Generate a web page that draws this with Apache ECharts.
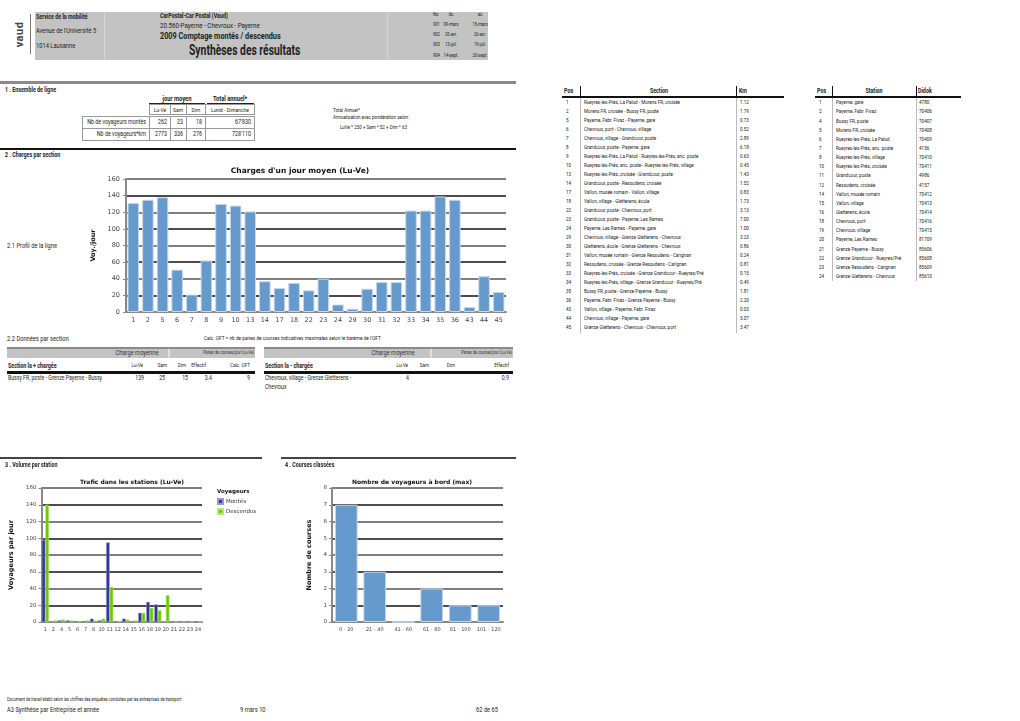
<!DOCTYPE html>
<html>
<head>
<meta charset="utf-8">
<script src="https://cdn.jsdelivr.net/npm/echarts@6/dist/echarts.min.js"></script>
<style>
body{margin:0;background:#fff;width:1020px;height:721px;position:relative;overflow:hidden;font-family:Roboto,"Noto Sans",sans-serif;color:#222}
.t{position:absolute;white-space:nowrap;line-height:1}
.r{position:absolute}
#chargeChart{position:absolute;left:80px;top:158px;width:440px;height:172px}
#stationChart{position:absolute;left:0;top:468px;width:285px;height:172px}
#courseChart{position:absolute;left:285px;top:468px;width:240px;height:172px}
</style>
</head>
<body>
<div id="chargeChart"></div>
<div id="stationChart"></div>
<div id="courseChart"></div>
<script>
// charge moyenne par section (Lu-Ve)
const chargeSections = ['1','2','5','6','7','8','9','10','13','14','17','18','22','23','24','29','30','31','32','33','34','35','36','43','44','45'];
const chargeLuVe = [131,135,138,51,21,62,130,128,121,37,29,35,26,40,9,4,28,36,36,122,122,139,135,6,43,24];

// trafic dans les stations
const stationLabels = ['1','2','4','5','6','7','8','10','11','12','14','15','16','18','19','20','21','22','23','24'];
const stationMontes = [98,0,2,2,1,1,4,2,95,1,4,1,11,24,21,0,1,0,0,1];
const stationDescendus = [140,2,3,2,1,2,2,4,42,1,3,2,11,17,14,32,0,0,0,0];

// courses classees
const courseClasses = ['0 - 20','21 - 40','41 - 60','61 - 80','81 - 100','101 - 120'];
const courseCounts = [7,3,0,2,1,1];

// tableaux
const sectionPos = ['1','2','5','6','7','8','9','10','13','14','17','18','22','23','24','29','30','31','32','33','34','35','36','43','44','45'];
const sectionNames = [
  'Rueyres-les-Prés, La Palud - Morens FR, croisée',
  'Morens FR, croisée - Bussy FR, poste',
  'Payerne, Fabr. Fivaz - Payerne, gare',
  'Chevroux, port - Chevroux, village',
  'Chevroux, village - Grandcour, poste',
  'Grandcour, poste - Payerne, gare',
  'Rueyres-les-Prés, La Palud - Rueyres-les-Prés, anc. poste',
  'Rueyres-les-Prés, anc. poste - Rueyres-les-Prés, village',
  'Rueyres-les-Prés, croisée - Grandcour, poste',
  'Grandcour, poste - Ressudens, croisée',
  'Vallon, musée romain - Vallon, village',
  'Vallon, village - Gletterens, école',
  'Grandcour, poste - Chevroux, port',
  'Grandcour, poste - Payerne, Les Rames',
  'Payerne, Les Rames - Payerne, gare',
  'Chevroux, village - Grenze Gletterens - Chevroux',
  'Gletterens, école - Grenze Gletterens - Chevroux',
  'Vallon, musée romain - Grenze Ressudens - Carignan',
  'Ressudens, croisée - Grenze Ressudens - Carignan',
  'Rueyres-les-Prés, croisée - Grenze Grandcour - Rueyres/Pré',
  'Rueyres-les-Prés, village - Grenze Grandcour - Rueyres/Pré',
  'Bussy FR, poste - Grenze Payerne - Bussy',
  'Payerne, Fabr. Fivaz - Grenze Payerne - Bussy',
  'Vallon, village - Payerne, Fabr. Fivaz',
  'Chevroux, village - Payerne, gare',
  'Grenze Gletterens - Chevroux - Chevroux, port'
];
const sectionKm = ['1.12','1.79','0.73','0.52','2.89','6.18','0.63','0.45','1.43','1.52','0.83','1.73','3.13','7.00','1.00','3.23','0.86','0.24','0.81','0.15','0.49','1.81','2.20','0.03','5.07','3.47'];

const stationPos = ['1','2','4','5','6','7','8','10','11','12','14','15','16','18','19','20','21','22','23','24'];
const stationNames = ['Payerne, gare','Payerne, Fabr. Fivaz','Bussy FR, poste','Morens FR, croisée','Rueyres-les-Prés, La Palud','Rueyres-les-Prés, anc. poste','Rueyres-les-Prés, village','Rueyres-les-Prés, croisée','Grandcour, poste','Ressudens, croisée','Vallon, musée romain','Vallon, village','Gletterens, école','Chevroux, port','Chevroux, village','Payerne, Les Rames','Grenze Payerne - Bussy','Grenze Grandcour - Rueyres/Pré','Grenze Ressudens - Carignan','Grenze Gletterens - Chevroux'];
const stationDidok = ['4780','70406','70407','70408','70409','4156','70410','70411','4986','4157','70412','70413','70414','70416','70415','81709','85606','85608','85609','85610'];

const ensembleLabels = ['Nb de voyageurs montés','Nb de voyageurs*km'];
const ensembleMontes = ['262','23','18',"67'830"];
const ensembleKm = ['2773','336','276',"728'110"];

function txt(x, y, s, size, o) {
  o = o || {};
  const d = document.createElement('div');
  d.className = 't';
  d.textContent = s;
  d.style.left = x + 'px';
  d.style.top = (y - size / 2) + 'px';
  d.style.fontSize = size + 'px';
  if (o.bold) d.style.fontWeight = 'bold';
  if (o.color) d.style.color = o.color;
  const sx = o.sx || 0.82;
  const tx = o.align === 'c' ? '-50%' : o.align === 'r' ? '-100%' : '0';
  d.style.transformOrigin = o.align === 'c' ? 'center' : o.align === 'r' ? 'right center' : 'left center';
  d.style.transform = 'translateX(' + tx + ') scaleX(' + sx + ')';
  document.body.appendChild(d);
  return d;
}
function box(x, y, w, h, bg, border) {
  const d = document.createElement('div');
  d.className = 'r';
  d.style.left = x + 'px'; d.style.top = y + 'px';
  d.style.width = w + 'px'; d.style.height = h + 'px';
  if (bg) d.style.background = bg;
  if (border) { d.style.border = border; d.style.boxSizing = 'border-box'; }
  document.body.appendChild(d);
  return d;
}

// ---- en-tete
const logo = txt(7, 34, 'vaud', 11, {bold: true, sx: 1});
logo.style.transform = 'rotate(-90deg)';
logo.style.transformOrigin = 'center';
logo.style.letterSpacing = '0.5px';
logo.style.color = '#444';
box(30, 14, 1, 40, '#777');
box(35, 12, 453, 48, '#c3c3c3');
box(104, 12, 1, 48, '#d6d6d6');
box(387, 12, 1, 48, '#d6d6d6');
txt(36, 17, 'Service de la mobilité', 6.5, {bold: true});
txt(36, 31, "Avenue de l'Université 5", 7);
txt(36, 46, '1014 Lausanne', 7);
txt(160, 16, 'CarPostal-Car Postal (Vaud)', 6.5, {bold: true});
txt(160, 26, '20.560-Payerne - Chevroux - Payerne', 7.5);
txt(160, 36, '2009 Comptage montés / descendus', 9, {bold: true, sx: 0.81});
txt(189, 50, 'Synthèses des résultats', 15, {bold: true, sx: 0.69});
const periodeNo = ['No','901','902','903','904'];
const periodeDu = ['du','09-mars','20-avr.','13-juil.','14-sept.'];
const periodeAu = ['au','15-mars','26-avr.','19-juil.','20-sept.'];
const periodeY = [14, 24, 34, 44, 55];
periodeNo.forEach((s, i) => txt(433, periodeY[i], s, 5, {}));
periodeDu.forEach((s, i) => txt(451, periodeY[i], s, 5, {align: 'c'}));
periodeAu.forEach((s, i) => txt(480, periodeY[i], s, 5, {align: 'c'}));

// ---- 1. Ensemble de ligne
box(0, 81, 516, 3, '#8a8a8a');
txt(5, 90, '1 . Ensemble de ligne', 6.5, {bold: true});
txt(177, 99, 'jour moyen', 7, {bold: true, align: 'c'});
txt(230, 99, 'Total annuel*', 7, {bold: true, align: 'c'});
box(149, 103, 56, 1, '#222');
box(207, 103, 47, 1, '#222');
const colX = [149, 170, 186, 205, 254];
const colHead = ['Lu-Ve', 'Sam', 'Dim', 'Lundi - Dimanche'];
for (let i = 0; i < 4; i++) {
  box(colX[i], 104, colX[i + 1] - colX[i] + 1, 11, null, '1px solid #999');
  txt((colX[i] + colX[i + 1]) / 2, 110, colHead[i], 6, {align: 'c'});
}
[ensembleMontes, ensembleKm].forEach((vals, r) => {
  const y = 116 + r * 12;
  box(82, y, 68, 13, null, '1px solid #999');
  txt(146, y + 6.5, ensembleLabels[r], 6.5, {align: 'r'});
  for (let i = 0; i < 4; i++) {
    box(colX[i], y, colX[i + 1] - colX[i] + 1, 13, null, '1px solid #999');
    txt(colX[i + 1] - 3, y + 6.5, vals[i], 6.5, {align: 'r'});
  }
});
txt(333, 111, 'Total Annuel*', 5.5);
txt(333, 118, 'Annualisation avec pondération selon:', 5.5);
txt(340, 128, 'LuVe * 250     + Sam * 52     + Dim * 63', 5.5);

// ---- 2. Charges par section
box(0, 148, 516, 1.5, '#111');
txt(5, 155, '2 . Charges par section', 6.5, {bold: true});
txt(7, 246, '2.1 Profil de la ligne', 7);

// tableau sections
txt(564, 91, 'Pos', 6.5, {bold: true});
txt(659, 91, 'Section', 6.5, {bold: true, align: 'c'});
txt(739, 91, 'Km', 6.5, {bold: true});
box(562, 96, 222, 2, '#111');
box(580, 86, 1, 10, '#111');
box(736, 86, 1, 10, '#111');
box(580, 98, 1, 235, '#bbb');
box(736, 98, 1, 235, '#bbb');
sectionPos.forEach((p, i) => {
  const y = 103 + i * 9;
  txt(566, y, p, 5.6);
  txt(584, y, sectionNames[i], 5.6);
  txt(740, y, sectionKm[i], 5.6);
});

// tableau stations
txt(817, 91, 'Pos', 6.5, {bold: true});
txt(874, 91, 'Station', 6.5, {bold: true, align: 'c'});
txt(918, 91, 'Didok', 6.5, {bold: true});
box(815, 96, 146, 2, '#111');
box(832, 86, 1, 10, '#111');
box(916, 86, 1, 10, '#111');
box(832, 98, 1, 183, '#bbb');
box(916, 98, 1, 183, '#bbb');
stationPos.forEach((p, i) => {
  const y = 103 + i * 9.15;
  txt(819, y, p, 5.6);
  txt(836, y, stationNames[i], 5.6);
  txt(919, y, stationDidok[i], 5.6);
});

// ---- 2.2 Donnees par section
txt(7, 339, '2.2 Données par section', 7);
txt(204, 339, "Calc. OFT = nb de paires de courses indicatives maximales selon le barème de l'OFT", 5.8);
function sectionTable(x0, x1, div, mid, title, heads, headX, row, rowX, wrap) {
  box(x0, 347, x1 - x0, 2, '#8a8a8a');
  box(x0, 349, x1 - x0, 9, '#c3c3c3');
  box(div, 349, 2, 9, '#e0e0e0');
  txt(mid, 353.5, 'Charge moyenne', 7, {align: 'c', color: '#333'});
  txt(x1 - 1, 353.5, 'Paires de courses/jour (Lu-Ve)', 4.6, {align: 'r', color: '#333'});
  txt(x0 + 1, 366, title, 6.5, {bold: true});
  heads.forEach((h, i) => txt(headX[i], 366, h, 5.6, {align: 'r'}));
  box(x0, 371, x1 - x0, 2.5, '#111');
  txt(x0 + 1, 378, row[0], 6.3);
  if (wrap) txt(x0 + 1, 387, wrap, 6.3);
  row.slice(1).forEach((v, i) => txt(rowX[i], 378, v, 6.3, {align: 'r'}));
}
sectionTable(7, 255, 168, 137, 'Section la + chargée',
  ['Lu-Ve', 'Sam', 'Dim', 'Effectif', 'Calc. OFT'], [143, 167, 186, 206, 250],
  ['Bussy FR, poste - Grenze Payerne - Bussy', '139', '25', '15', '3.4', '9'], [144, 165, 188, 212, 250], null);
sectionTable(264, 513, 430, 393, 'Section la - chargée',
  ['Lu-Ve', 'Sam', 'Dim', 'Effectif'], [408, 429, 455, 509],
  ['Chevroux, village - Grenze Gletterens -', '4', '0.9'], [409, 509], 'Chevroux');

// ---- 3 / 4
box(0, 457, 262, 1.5, '#444');
box(281, 457, 235, 1.5, '#444');
txt(5, 465, '3 . Volume par station', 6.5, {bold: true});
txt(285, 465, '4 . Courses classées', 6.5, {bold: true});

// ---- pied de page
txt(7, 700, 'Document de travail établi selon les chiffres des enquêtes conduites par les entreprises de transport', 4.8);
txt(7, 710, 'A3 Synthèse par Entreprise et année', 7);
txt(240, 710, '9 mars 10', 7);
txt(476, 710, '62 de 65', 7);

// ---- graphiques
const FONT = 'DejaVu Sans';
function valueAxis(max, interval, name, gap) {
  return {
    type: 'value', min: 0, max: max, interval: interval,
    name: name, nameLocation: 'middle', nameGap: gap, nameRotate: 90,
    nameTextStyle: {fontSize: 6.5, fontWeight: 'bold', fontFamily: FONT, color: '#111'},
    axisLine: {show: true, lineStyle: {color: '#888', width: 2}},
    axisTick: {show: true, length: 3, lineStyle: {color: '#888'}},
    axisLabel: {fontSize: 5.5, fontFamily: FONT, color: '#444', margin: 5},
    splitLine: {lineStyle: {color: ['#555', '#111'], width: 1.6}}
  };
}
function catAxis(data, size) {
  return {
    type: 'category', data: data,
    axisLine: {show: true, lineStyle: {color: '#888', width: 2}},
    axisTick: {show: false},
    axisLabel: {fontSize: size, fontFamily: FONT, color: '#444', margin: 5, interval: 0}
  };
}
const titleStyle = {fontSize: 7.5, fontWeight: 'bold', fontFamily: FONT, color: '#111'};

const chargeChart = echarts.init(document.getElementById('chargeChart'));
chargeChart.setOption({
  animation: false,
  title: {text: "Charges d'un jour moyen (Lu-Ve)", left: 'center', top: 4, textStyle: titleStyle},
  grid: {left: 46, right: 14, top: 21, bottom: 18},
  xAxis: catAxis(chargeSections, 6.5),
  yAxis: Object.assign(valueAxis(160, 20, 'Voy./jour', 24), {
    axisLabel: {fontSize: 6.5, fontFamily: FONT, color: '#444', margin: 6}
  }),
  series: [{
    type: 'bar', data: chargeLuVe, barCategoryGap: '21%',
    itemStyle: {color: '#6699cc', borderColor: '#c6d7ea', borderWidth: 1}
  }]
});

const stationChart = echarts.init(document.getElementById('stationChart'));
stationChart.setOption({
  animation: false,
  title: [
    {text: 'Trafic dans les stations (Lu-Ve)', left: 127, textAlign: 'center', top: 6, textStyle: Object.assign({}, titleStyle, {fontSize: 6})},
    {text: 'Voyageurs', left: 212, top: 16, textStyle: Object.assign({}, titleStyle, {fontSize: 5.5})}
  ],
  legend: {
    orient: 'vertical', left: 212, top: 25, itemWidth: 5, itemHeight: 5, itemGap: 3,
    icon: 'rect', textStyle: {fontSize: 5.5, fontFamily: FONT, color: '#333', padding: [0, 0, 0, -2]},
    data: ['Montés', 'Descendus']
  },
  grid: {left: 32, right: 83, top: 20, bottom: 18},
  xAxis: catAxis(stationLabels, 5),
  yAxis: valueAxis(160, 20, 'Voyageurs par jour', 18),
  series: [
    {name: 'Montés', type: 'bar', data: stationMontes, barGap: '0%', barCategoryGap: '12%',
      itemStyle: {color: '#333399', borderColor: '#9999cc', borderWidth: 0.5}},
    {name: 'Descendus', type: 'bar', data: stationDescendus,
      itemStyle: {color: '#66cc00', borderColor: '#b3e680', borderWidth: 0.5}}
  ]
});

const courseChart = echarts.init(document.getElementById('courseChart'));
courseChart.setOption({
  animation: false,
  title: {text: 'Nombre de voyageurs à bord (max)', left: 122, textAlign: 'center', top: 6, textStyle: Object.assign({}, titleStyle, {fontSize: 6})},
  grid: {left: 47, right: 22, top: 20, bottom: 18},
  xAxis: catAxis(courseClasses, 5),
  yAxis: valueAxis(8, 1, 'Nombre de courses', 14),
  series: [{
    type: 'bar', data: courseCounts, barCategoryGap: '20%',
    itemStyle: {color: '#6699cc', borderColor: '#c6d7ea', borderWidth: 1}
  }]
});
</script>
</body>
</html>
